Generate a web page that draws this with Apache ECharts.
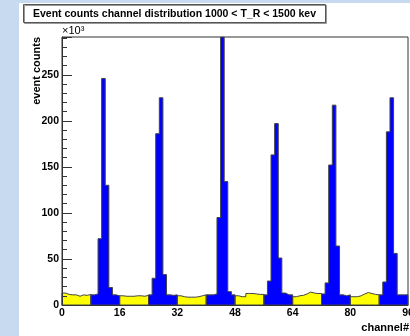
<!DOCTYPE html>
<html>
<head>
<meta charset="utf-8">
<script src="https://cdn.jsdelivr.net/npm/echarts@6/dist/echarts.min.js"></script>
<style>
  html, body { margin: 0; padding: 0; background: #c8daf0; }
  #chart { width: 410px; height: 336px; }
</style>
</head>
<body>
<div id="chart"></div>
<script>
  // event counts per channel, in units of 10^3
  var counts = [
    13, 11.5, 11, 11, 9.5, 11, 10.5, 11.5,
    11, 12, 72, 246, 130, 19, 11, 10,
    10, 9.5, 9.5, 9.5, 10, 10, 9.5, 10.5,
    11, 29, 186, 225, 33, 11, 10.5, 11,
    10, 9, 8.5, 8.5, 8.5, 9, 10, 11,
    11, 11, 12, 95, 291, 134, 14.5, 11,
    10, 9, 9, 12.5, 12.5, 12, 11.5, 11.5,
    11, 26, 163, 197, 51, 13, 11, 11,
    9, 10, 10.5, 12, 14, 13, 12.5, 12.5,
    12, 24, 152, 217, 64, 11, 10, 11,
    9, 9, 10, 12, 13.5, 12.5, 11.5, 11,
    11, 25, 188, 225, 56, 11, 11, 11
  ];
  var xTicks = [0, 16, 32, 48, 64, 80, 96];
  var yTicks = [0, 50, 100, 150, 200, 250];
  var yMax = 291;

  var font = '"Liberation Sans", Arial, sans-serif';

  // channels in the first half of every 16-channel block are yellow, the rest blue
  function isYellow(ch) { return ch % 16 < 8; }
  function isBlue(ch) { return !isYellow(ch); }

  // histogram as a step line through the bin edges
  function histo(pick) {
    var pts = [[0, 0]];
    counts.forEach(function (v, i) { pts.push([i, pick(i) ? v : 0]); });
    pts.push([counts.length, 0]);
    return pts;
  }

  var chart = echarts.init(document.getElementById('chart'));
  var option = {
    animation: false,
    backgroundColor: 'transparent',
    title: {
      text: 'Event counts channel distribution 1000 < T_R < 1500 kev',
      left: 23,
      top: 4,
      padding: [4, 10, 3, 10],
      backgroundColor: '#fff',
      borderColor: '#555',
      borderWidth: 1,
      shadowColor: '#999',
      shadowOffsetX: 1,
      shadowOffsetY: 1,
      textStyle: { fontFamily: font, fontSize: 10.5, fontWeight: 'bold', color: '#000', lineHeight: 12 }
    },
    graphic: [
      { type: 'rect', z: -100, shape: { x: 19, y: 3, width: 391, height: 333 }, style: { fill: '#fff' } },
      { type: 'text', x: 62, y: 36, style: { text: '\u00d710\u00b3', font: '11px ' + font, fill: '#000', textVerticalAlign: 'bottom' } },
      { type: 'text', x: 37, y: 37, rotation: Math.PI / 2,
        style: { text: 'event counts', font: 'bold 11px ' + font, fill: '#000', align: 'right', verticalAlign: 'middle' } },
      { type: 'text', x: 409, y: 328,
        style: { text: 'channel#', font: 'bold 11px ' + font, fill: '#000', align: 'right', verticalAlign: 'middle' } }
    ],
    grid: {
      left: 62, top: 37, right: 2, bottom: 31,
      outerBoundsMode: 'none',
      containLabel: false,
      show: true, backgroundColor: '#fff', borderColor: '#333', borderWidth: 1
    },
    xAxis: {
      type: 'value', min: 0, max: 96, interval: 16, z: 5,
      axisLine: { show: true, lineStyle: { color: '#333', width: 1 } },
      axisTick: { show: false },
      splitLine: { show: false },
      axisLabel: {
        margin: 3, color: '#000', fontFamily: font, fontSize: 10.5, fontWeight: 'bold',
        formatter: function (v) { return xTicks.indexOf(v) >= 0 ? String(v) : ''; }
      }
    },
    yAxis: {
      type: 'value', min: 0, max: yMax, interval: 50, z: 5,
      axisLine: { show: true, lineStyle: { color: '#333', width: 1 } },
      axisTick: { show: true, inside: true, length: 10, lineStyle: { color: '#333' } },
      minorTick: { show: true, splitNumber: 5, length: 5, lineStyle: { color: '#333' } },
      splitLine: { show: false },
      axisLabel: {
        margin: 3, color: '#000', fontFamily: font, fontSize: 10.5, fontWeight: 'bold',
        formatter: function (v) { return yTicks.indexOf(v) >= 0 ? String(v) : ''; }
      }
    },
    series: [
      {
        type: 'line', data: histo(isYellow), step: 'end', symbol: 'none',
        lineStyle: { color: '#444', width: 1 },
        areaStyle: { color: '#ffff00', opacity: 1 }
      },
      {
        type: 'line', data: histo(isBlue), step: 'end', symbol: 'none',
        lineStyle: { color: '#444', width: 1 },
        areaStyle: { color: '#0000ff', opacity: 1 }
      }
    ]
  };
  chart.setOption(option);
</script>
</body>
</html>
